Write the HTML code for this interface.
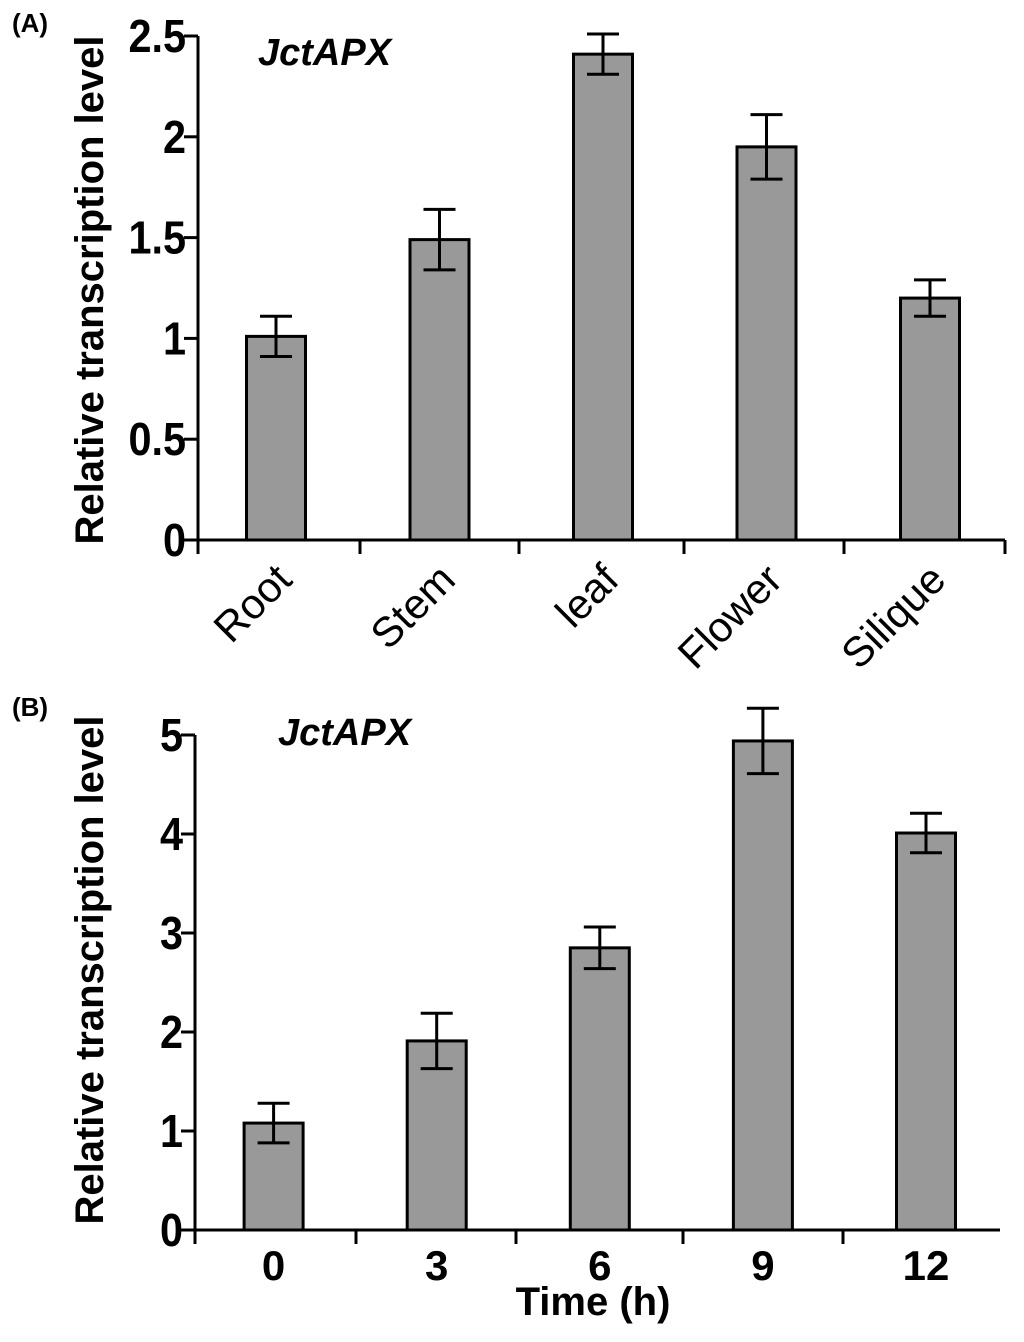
<!DOCTYPE html>
<html><head><meta charset="utf-8"><style>
html,body{margin:0;padding:0;background:#fff}
svg{display:block}
text{font-family:"Liberation Sans",Arial,sans-serif;fill:#000}
</style></head><body>
<svg id="chart" width="1024" height="1342" viewBox="0 0 1024 1342">
<g id="pa"></g>
<g id="pb"></g>
</svg>
<script>
const catsA = ["Root","Stem","leaf","Flower","Silique"];
const valsA = [1.01, 1.49, 2.41, 1.95, 1.2];
const errsA = [0.1, 0.15, 0.1, 0.16, 0.09];
const ticksA = [0, 0.5, 1, 1.5, 2, 2.5];
const tickLabelsA = ["0","0.5","1","1.5","2","2.5"];

const catsB = ["0","3","6","9","12"];
const valsB = [1.08, 1.91, 2.85, 4.94, 4.01];
const errsB = [0.2, 0.28, 0.21, 0.33, 0.2];
const ticksB = [0, 1, 2, 3, 4, 5];
const tickLabelsB = ["0","1","2","3","4","5"];

const NS = "http://www.w3.org/2000/svg";
function mk(parent, tag, attrs, txt){
  const e = document.createElementNS(NS, tag);
  for (const k in attrs) e.setAttribute(k, attrs[k]);
  if (txt !== undefined) e.textContent = txt;
  parent.appendChild(e);
  return e;
}

function panel(g, o){
  const y = v => o.y0 - v * o.ppu;
  const x = i => o.centers0 + i * o.step;
  let ax = mk(g, "line", {x1:o.ax, y1:y(o.ymax), x2:o.ax, y2:o.y0, stroke:"#000","stroke-width":3});
  
  
  o.ticks.forEach((t, i) => {
    const tl = mk(g, "line", {x1:o.ax-14, y1:y(t), x2:o.ax, y2:y(t), stroke:"#000","stroke-width":3});
    
    
    const tx = mk(g, "text", {x:o.ax-12, y:y(t)+16, "text-anchor":"end","font-size":46,"font-weight":"bold",transform:`translate(${o.ax-12},0) scale(0.9,1) translate(${-(o.ax-12)},0)`}, o.tickLabels[i]);
    
    
  });
  const xa = mk(g, "line", {x1:o.ax, y1:o.y0, x2:o.xend, y2:o.y0, stroke:"#000","stroke-width":3});
  
  
  o.xticks.forEach(px => {
    const t = mk(g, "line", {x1:px, y1:o.y0, x2:px, y2:o.y0+14, stroke:"#000","stroke-width":3});
    
    
  });
  o.vals.forEach((v, i) => {
    const cx = x(i);
    const b = mk(g, "rect", {x:cx-o.bw/2, y:y(v), width:o.bw, height:o.y0-y(v), fill:"#999", stroke:"#000","stroke-width":3});
    
    
    const e = o.errs[i];
    const eg = mk(g, "path", {d:`M${cx},${y(v+e)}V${y(v-e)}M${cx-16},${y(v+e)}H${cx+16}M${cx-16},${y(v-e)}H${cx+16}`, stroke:"#000","stroke-width":3, fill:"none"});
    
    
    let lab;
    if (o.rot) {
      lab = mk(g, "text", {x:cx+18, y:o.y0+42, "text-anchor":"end","font-size":42, transform:`rotate(-45 ${cx+18} ${o.y0+42})`}, o.cats[i]);
    } else {
      lab = mk(g, "text", {x:cx, y:o.y0+50, "text-anchor":"middle","font-size":42,"font-weight":"bold"}, o.cats[i]);
    }
    
    
  });
  const yt = mk(g, "text", {x:0, y:0, "text-anchor":"middle","font-size":40,"font-weight":"bold", transform:`translate(${o.titleX},${o.titleY}) rotate(-90)`}, "Relative transcription level");
  
  
  const gn = mk(g, "text", {x:o.geneX, y:o.geneY, "font-size":38,"font-weight":"bold","font-style":"italic"}, "JctAPX");
  
  
  const pl = mk(g, "text", {x:12, y:o.plY, "font-size":26,"font-weight":"bold"}, o.panelLabel);
  
  
}

panel(document.getElementById("pa"), {
  cats:catsA, vals:valsA, errs:errsA, ticks:ticksA, tickLabels:tickLabelsA,
  ax:198, y0:540, ppu:201.6, ymax:2.5, centers0:276, step:163.5, bw:59, xend:1005,
  xticks:[198,360,519,684,844,1005], rot:true, titleX:103, titleY:290,
  geneX:258, geneY:65, plY:32, panelLabel:"(A)"
});
panel(document.getElementById("pb"), {
  cats:catsB, vals:valsB, errs:errsB, ticks:ticksB, tickLabels:tickLabelsB,
  ax:195, y0:1230, ppu:99, ymax:5, centers0:273.6, step:163.1, bw:59, xend:1000,
  xticks:[195,356,516,683,843], rot:false, titleX:103, titleY:970,
  geneX:278, geneY:745, plY:716, panelLabel:"(B)"
});
const tt = mk(document.getElementById("pb"), "text", {x:593, y:1315, "text-anchor":"middle","font-size":40,"font-weight":"bold"}, "Time (h)");


</script>
</body></html>
